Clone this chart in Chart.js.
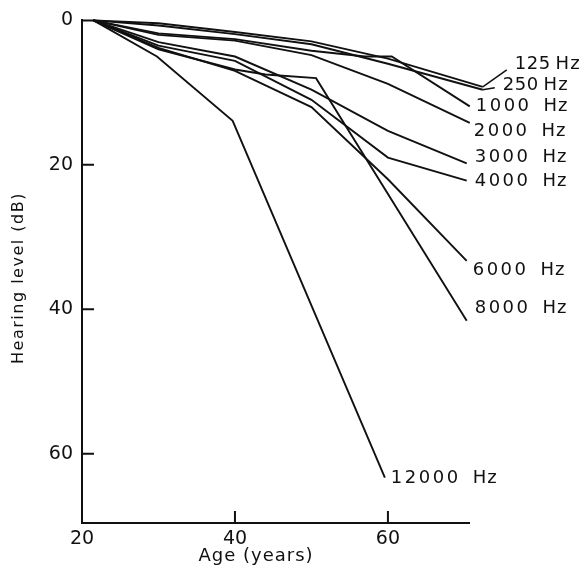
<!DOCTYPE html>
<html>
<head>
<meta charset="utf-8">
<script src="https://cdn.jsdelivr.net/npm/chart.js@4/dist/chart.umd.min.js"></script>
<style>
  body { margin: 0; background: #fff; }
  #wrap { width: 586px; height: 570px; }
</style>
</head>
<body>
<div id="wrap"><canvas id="chart" width="586" height="570"></canvas></div>
<script>
// hearing level (dB) against age (years), one pair of arrays per frequency
var age125 = [21.5, 30, 40, 50, 60, 72.4];
var hl125 = [0, 0.4, 1.6, 2.9, 5.3, 9.2];
var age250 = [21.5, 30, 40, 50, 60, 72.4];
var hl250 = [0, 0.7, 1.9, 3.3, 6.0, 9.6];
var age1000 = [21.5, 30, 40, 50, 57, 60.5, 70.7];
var hl1000 = [0, 1.8, 2.6, 4.2, 5.0, 5.0, 11.9];
var age2000 = [21.5, 30, 40, 50, 60, 70.7];
var hl2000 = [0, 2.0, 2.8, 4.8, 8.8, 14.2];
var age3000 = [21.5, 30, 40, 50, 60, 70.3];
var hl3000 = [0, 3.0, 5.0, 9.6, 15.3, 19.8];
var age4000 = [21.5, 30, 40, 50, 60, 70.3];
var hl4000 = [0, 3.5, 5.6, 11.0, 19.0, 22.2];
var age6000 = [21.5, 30, 40, 50, 60, 70.3];
var hl6000 = [0, 3.8, 7.0, 12.0, 22.0, 33.3];
var age8000 = [21.5, 30, 40, 44, 50.6, 70.3];
var hl8000 = [0, 4.0, 6.8, 7.5, 8.0, 41.6];
var age12000 = [21.5, 29.8, 39.7, 59.6];
var hl12000 = [0, 5.0, 13.9, 63.3];

var seriesNames = ["125 Hz", "250 Hz", "1000 Hz", "2000 Hz", "3000 Hz", "4000 Hz", "6000 Hz", "8000 Hz", "12000 Hz"];
var seriesAges = [age125, age250, age1000, age2000, age3000, age4000, age6000, age8000, age12000];
var seriesLevels = [hl125, hl250, hl1000, hl2000, hl3000, hl4000, hl6000, hl8000, hl12000];

var ageTicks = [20, 40, 60];
var levelTicks = [0, 20, 40, 60];

// label offsets from the end of each line, in pixels
var labelOffsets = [[32, -23], [20, -4], [6, 0], [4, 8], [8, -6], [8, 1], [6, 9], [8, -12], [6, 1]];

var datasets = [];
for (var i = 0; i < seriesNames.length; i++) {
    var pts = [];
    for (var j = 0; j < seriesAges[i].length; j++) {
        pts.push({x: seriesAges[i][j], y: seriesLevels[i][j]});
    }
    datasets.push({
        label: seriesNames[i],
        data: pts,
        borderColor: '#111',
        borderWidth: 1.9,
        pointRadius: 0,
        tension: 0,
        fill: false,
        clip: false
    });
}

var figurePlugin = {
    id: 'figure',
    afterDraw: function(chart) {
        var ctx = chart.ctx;
        var area = chart.chartArea;
        var xs = chart.scales.x, ys = chart.scales.y;
        ctx.save();
        ctx.strokeStyle = '#111';
        ctx.lineWidth = 2;
        // inner tick marks
        ctx.beginPath();
        ageTicks.forEach(function(v) {
            if (v === xs.min) return;
            var px = xs.getPixelForValue(v);
            ctx.moveTo(px, area.bottom);
            ctx.lineTo(px, area.bottom - 12);
        });
        levelTicks.forEach(function(v) {
            var py = ys.getPixelForValue(v);
            ctx.moveTo(area.left, py);
            ctx.lineTo(area.left + 12, py);
        });
        ctx.stroke();

        // line labels: number, then "Hz" after a gap
        ctx.fillStyle = '#111';
        ctx.font = '18px "DejaVu Sans"';
        ctx.textBaseline = 'middle';
        ctx.textAlign = 'left';
        ctx.lineWidth = 1.5;
        for (var i = 0; i < seriesNames.length; i++) {
            var meta = chart.getDatasetMeta(i);
            var last = meta.data[meta.data.length - 1];
            var tx = last.x + labelOffsets[i][0];
            var ty = last.y + labelOffsets[i][1];
            if (i < 2) {
                ctx.beginPath();
                ctx.moveTo(last.x, last.y);
                ctx.lineTo(tx - 8, ty + (i === 0 ? 6 : 2));
                ctx.stroke();
            }
            var parts = seriesNames[i].split(' ');
            var narrow = parts[0].length < 4;
            ctx.letterSpacing = narrow ? '0.5px' : '2.5px';
            ctx.fillText(parts[0], tx, ty);
            var w = ctx.measureText(parts[0]).width;
            ctx.letterSpacing = '1px';
            ctx.fillText(parts[1], tx + w + (narrow ? 5 : 12), ty);
        }

        // axis titles
        ctx.letterSpacing = '1px';
        ctx.font = '18px "DejaVu Sans"';
        ctx.textAlign = 'center';
        ctx.fillText('Age (years)', 256, 556);
        ctx.translate(19, 278);
        ctx.rotate(-Math.PI / 2);
        ctx.font = '16px "DejaVu Sans"';
        ctx.letterSpacing = '1.5px';
        ctx.fillText('Hearing level (dB)', 0, 0);
        ctx.restore();
    }
};

var chart = new Chart(document.getElementById('chart').getContext('2d'), {
    type: 'line',
    data: { datasets: datasets },
    options: {
        responsive: false,
        animation: false,
        parsing: false,
        layout: { padding: { top: 13, right: 117, left: 0, bottom: 0 } },
        plugins: { legend: { display: false }, tooltip: { enabled: false } },
        scales: {
            x: {
                type: 'linear',
                min: 20,
                max: 70.6,
                afterBuildTicks: function(scale) { scale.ticks = ageTicks.map(function(v) { return {value: v}; }); },
                afterFit: function(scale) { scale.height = 47; },
                grid: { display: true, drawOnChartArea: false, drawTicks: false },
                border: { display: true, color: '#111', width: 2 },
                ticks: { color: '#111', padding: 5, font: { family: 'DejaVu Sans', size: 19 } }
            },
            y: {
                type: 'linear',
                reverse: true,
                min: 0,
                max: 69.6,
                afterBuildTicks: function(scale) { scale.ticks = levelTicks.map(function(v) { return {value: v}; }); },
                afterFit: function(scale) { scale.width = 82; },
                grid: { display: true, drawOnChartArea: false, drawTicks: false },
                border: { display: true, color: '#111', width: 2 },
                ticks: { color: '#111', padding: 9, font: { family: 'DejaVu Sans', size: 19 } }
            }
        }
    },
    plugins: [figurePlugin]
});
</script>
</body>
</html>
